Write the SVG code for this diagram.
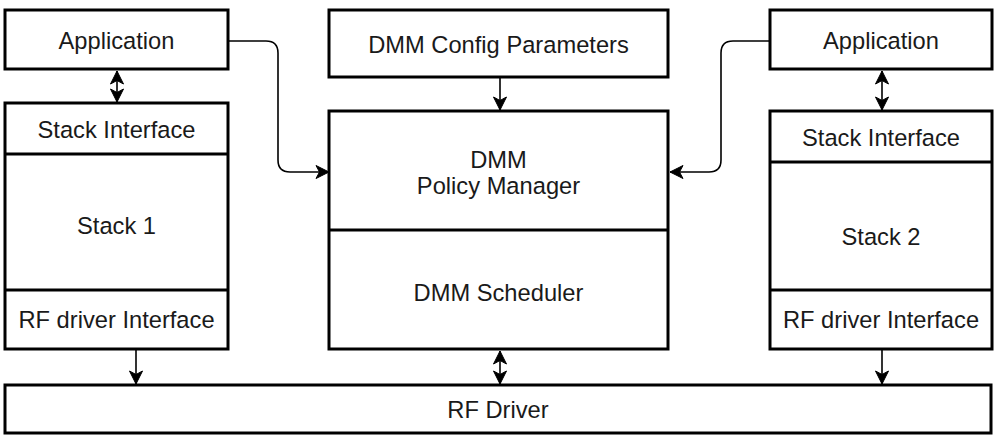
<svg xmlns="http://www.w3.org/2000/svg" width="998" height="442" viewBox="0 0 998 442">
<style>
.box{fill:#fff;stroke:#000;stroke-width:3}
.div{stroke:#000;stroke-width:3}
.t{font-family:"Liberation Sans",Arial,sans-serif;font-size:23.7px;fill:#1a1a1a;text-anchor:middle}
.c{fill:none;stroke:#000;stroke-width:1.6}
</style>
<defs>
<marker id="ah" markerUnits="userSpaceOnUse" markerWidth="16" markerHeight="16" viewBox="0 0 16 16" refX="14" refY="8" orient="auto-start-reverse">
<path d="M1,1.5 L14,8 L1,14.5 L4.5,8 z" fill="#000" stroke="#000" stroke-width="1"/>
</marker>
</defs>
<g id="connectors">
<path class="c" d="M228,41 H266 Q278,41 278,53 V160 Q278,172 290,172 H329" marker-end="url(#ah)"/>
<path class="c" d="M770,41 H733 Q721,41 721,53 V160 Q721,172 709,172 H670" marker-end="url(#ah)"/>
<path class="c" d="M500,78 V110" marker-end="url(#ah)"/>
<path class="c" d="M117,71 V102" marker-start="url(#ah)" marker-end="url(#ah)"/>
<path class="c" d="M882,71 V110" marker-start="url(#ah)" marker-end="url(#ah)"/>
<path class="c" d="M500,351 V384" marker-start="url(#ah)" marker-end="url(#ah)"/>
<path class="c" d="M136,350 V384" marker-end="url(#ah)"/>
<path class="c" d="M882,350 V384" marker-end="url(#ah)"/>
</g>
<g id="app-left">
<rect class="box" x="5" y="10" width="223" height="59"/>
<text class="t" x="116.5" y="49">Application</text>
</g>
<g id="stack1">
<rect class="box" x="5" y="103" width="223" height="246"/>
<line class="div" x1="5" y1="154" x2="228" y2="154"/>
<line class="div" x1="5" y1="290" x2="228" y2="290"/>
<text class="t" x="116.5" y="138">Stack Interface</text>
<text class="t" x="116.5" y="234">Stack 1</text>
<text class="t" x="116.5" y="328">RF driver Interface</text>
</g>
<g id="dmm-config">
<rect class="box" x="329" y="10" width="339" height="67"/>
<text class="t" x="498.5" y="53">DMM Config Parameters</text>
</g>
<g id="dmm">
<rect class="box" x="329" y="111" width="339" height="238"/>
<line class="div" x1="329" y1="230" x2="668" y2="230"/>
<text class="t" x="498.5" y="168">DMM</text>
<text class="t" x="498.5" y="194">Policy Manager</text>
<text class="t" x="498.5" y="301">DMM Scheduler</text>
</g>
<g id="app-right">
<rect class="box" x="770" y="10" width="222" height="59"/>
<text class="t" x="881" y="49">Application</text>
</g>
<g id="stack2">
<rect class="box" x="770" y="111" width="222" height="238"/>
<line class="div" x1="770" y1="162" x2="992" y2="162"/>
<line class="div" x1="770" y1="290" x2="992" y2="290"/>
<text class="t" x="881" y="146">Stack Interface</text>
<text class="t" x="881" y="245">Stack 2</text>
<text class="t" x="881" y="328">RF driver Interface</text>
</g>
<g id="rf-driver">
<rect class="box" x="5" y="385" width="986" height="48"/>
<text class="t" x="498" y="418">RF Driver</text>
</g>
</svg>
